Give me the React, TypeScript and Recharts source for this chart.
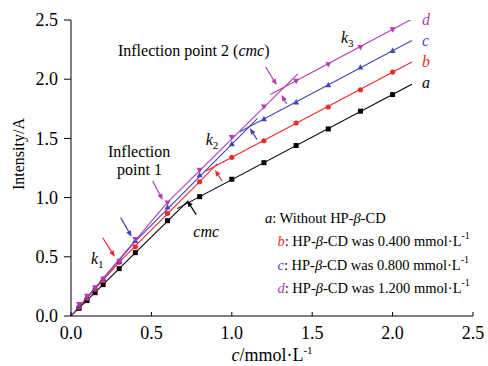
import React from 'react';
import { ComposedChart, Line, Scatter, XAxis, YAxis, ReferenceDot } from 'recharts';

// ---- data ----
const concentrations = [0.05, 0.1, 0.15, 0.2, 0.3, 0.4, 0.6, 0.8, 1.0, 1.2, 1.4, 1.6, 1.8, 2.0];
const intensityA = [0.065, 0.13, 0.197, 0.265, 0.40, 0.535, 0.805, 1.008, 1.155, 1.295, 1.44, 1.58, 1.73, 1.87];
const intensityB = [0.075, 0.15, 0.225, 0.30, 0.455, 0.585, 0.867, 1.134, 1.34, 1.48, 1.63, 1.765, 1.91, 2.06];
const intensityC = [0.085, 0.16, 0.235, 0.315, 0.46, 0.635, 0.918, 1.19, 1.453, 1.664, 1.805, 1.95, 2.10, 2.24];
const intensityD = [0.099, 0.169, 0.242, 0.312, 0.465, 0.648, 0.957, 1.233, 1.51, 1.768, 1.985, 2.125, 2.27, 2.42];

// fitted segments (c, intensity)
const fitA1: [number, number][] = [[0, 0], [0.73, 0.975]];
const fitA2: [number, number][] = [[0.66, 0.907], [2.12, 1.958]];
const fitB1: [number, number][] = [[0, 0], [0.3, 0.455], [0.91, 1.284]];
const fitB2: [number, number][] = [[0.84, 1.225], [2.12, 2.146]];
const fitC1: [number, number][] = [[0, 0], [0.4, 0.63], [1.16, 1.67]];
const fitC2: [number, number][] = [[1.05, 1.556], [2.12, 2.326]];
const fitD1: [number, number][] = [[0, 0], [0.6, 0.96], [1.41, 2.045]];
const fitD2: [number, number][] = [[1.24, 1.87], [2.13, 2.515]];

const xTicks = [0, 0.5, 1.0, 1.5, 2.0, 2.5];
const yTicks = [0, 0.5, 1.0, 1.5, 2.0, 2.5];

const COLORS = { a: '#000000', b: '#ee2a2a', c: '#4545b5', d: '#b03cb0' };
const FONT = '"Liberation Serif", "Times New Roman", serif';

const toPts = (xs: number[], ys: number[]) => xs.map((x, i) => ({ x, y: ys[i] }));
const segPts = (s: [number, number][]) => s.map(([x, y]) => ({ x, y }));

// arrows: tip in data coords, tail offset in px
const arrows = [
  { x: 0.723, y: 0.974, dx: 9, dy: 14, color: COLORS.a },
  { x: 0.896, y: 1.233, dx: 7, dy: 11, color: COLORS.b },
  { x: 1.113, y: 1.585, dx: 7, dy: 11, color: COLORS.c },
  { x: 1.279, y: 1.951, dx: -11, dy: -18, color: COLORS.d },
  { x: 1.31, y: 1.866, dx: 5, dy: 9, color: COLORS.d },
  { x: 0.57, y: 0.98, dx: -10, dy: -19, color: COLORS.d },
  { x: 0.377, y: 0.67, dx: -11, dy: -19, color: COLORS.c },
  { x: 0.272, y: 0.5, dx: -12, dy: -19, color: COLORS.b },
];

const Arrow = ({ cx, cy, dx, dy, color }: any) => {
  if (cx == null || cy == null) return null;
  const len = Math.sqrt(dx * dx + dy * dy);
  const ux = -dx / len;
  const uy = -dy / len;
  const nx = -uy;
  const ny = ux;
  const hl = 6;
  const hw = 2.6;
  const bx = cx - ux * hl;
  const by = cy - uy * hl;
  return (
    <g>
      <line x1={cx + dx} y1={cy + dy} x2={bx + ux * 1} y2={by + uy * 1} stroke={color} strokeWidth={1.2} />
      <polygon
        points={`${cx},${cy} ${bx + nx * hw},${by + ny * hw} ${bx - nx * hw},${by - ny * hw}`}
        fill={color}
      />
    </g>
  );
};

const Square = (p: any) => <rect x={p.cx - 2.5} y={p.cy - 2.5} width={5} height={5} fill={COLORS.a} />;
const Circle = (p: any) => <circle cx={p.cx} cy={p.cy} r={2.6} fill={COLORS.b} />;
const TriUp = (p: any) => (
  <polygon points={`${p.cx},${p.cy - 3.2} ${p.cx - 3},${p.cy + 2.2} ${p.cx + 3},${p.cy + 2.2}`} fill={COLORS.c} />
);
const TriDown = (p: any) => (
  <polygon points={`${p.cx},${p.cy + 3.2} ${p.cx - 3},${p.cy - 2.2} ${p.cx + 3},${p.cy - 2.2}`} fill={COLORS.d} />
);

const tStyle = { fontFamily: FONT, fontSize: 16 } as const;
const tickStyle = { fontFamily: FONT, fontSize: 18 } as const;
const legendStyle = { fontFamily: FONT, fontSize: 14.5 } as const;

const XTick = (props: any) => {
  const { x, y, payload } = props;
  return (
    <g>
      <line x1={x} x2={x} y1={y - 8} y2={y - 12} stroke="#000" strokeWidth={1} />
      <text x={x} y={y + 15} textAnchor="middle" fill="#000" style={tickStyle}>
        {Number(payload.value).toFixed(1)}
      </text>
    </g>
  );
};

const YTick = (props: any) => {
  const { x, y, payload } = props;
  return (
    <text x={x} y={y} dy="0.34em" textAnchor="end" fill="#000" style={tickStyle}>
      {Number(payload.value).toFixed(1)}
    </text>
  );
};

const Sub = ({ n }: { n: string }) => (
  <tspan dy={4} style={{ fontSize: 11, fontStyle: 'normal' }}>{n}</tspan>
);
const Sup = ({ size = 10 }: { size?: number }) => (
  <tspan dy={-7} style={{ fontSize: size }}>-1</tspan>
);
const I = ({ children, color }: any) => (
  <tspan style={{ fontStyle: 'italic' }} fill={color}>{children}</tspan>
);

type Note = { x: number; y: number; content: React.ReactNode; legend?: boolean };

const notes: Note[] = [
  { x: 0.292, y: 2.196, content: <>Inflection point 2 (<I>cmc</I>)</> },
  { x: 0.23, y: 1.343, content: <>Inflection</> },
  { x: 0.286, y: 1.19, content: <>point 1</> },
  { x: 0.124, y: 0.44, content: <><I>k</I><Sub n="1" /></> },
  { x: 0.838, y: 1.444, content: <><I>k</I><Sub n="2" /></> },
  { x: 1.679, y: 2.306, content: <><I>k</I><Sub n="3" /></> },
  { x: 0.761, y: 0.667, content: <I>cmc</I> },
  { x: 2.183, y: 2.457, content: <I color={COLORS.d}>d</I> },
  { x: 2.183, y: 2.28, content: <I color={COLORS.c}>c</I> },
  { x: 2.183, y: 2.103, content: <I color={COLORS.b}>b</I> },
  { x: 2.183, y: 1.926, content: <I color={COLORS.a}>a</I> },
  { x: 1.206, y: 0.785, legend: true, content: <><I>a</I>: Without HP-<I>β</I>-CD</> },
  { x: 1.284, y: 0.587, legend: true, content: <><I color={COLORS.b}>b</I>: HP-<I>β</I>-CD was 0.400 mmol·L<Sup /></> },
  { x: 1.284, y: 0.389, legend: true, content: <><I color={COLORS.c}>c</I>: HP-<I>β</I>-CD was 0.800 mmol·L<Sup /></> },
  { x: 1.284, y: 0.194, legend: true, content: <><I color={COLORS.d}>d</I>: HP-<I>β</I>-CD was 1.200 mmol·L<Sup /></> },
];

const fits = [
  { data: fitA1, color: COLORS.a },
  { data: fitA2, color: COLORS.a },
  { data: fitB1, color: COLORS.b },
  { data: fitB2, color: COLORS.b },
  { data: fitC1, color: COLORS.c },
  { data: fitC2, color: COLORS.c },
  { data: fitD1, color: COLORS.d },
  { data: fitD2, color: COLORS.d },
];

const XLabel = (props: any) => {
  const vb = props.viewBox || {};
  const cx = vb.x + vb.width / 2;
  return (
    <text x={cx} y={vb.y + 45} textAnchor="middle" fill="#000" style={tickStyle}>
      <I>c</I>/mmol·L<Sup size={11} />
    </text>
  );
};

export default function App() {
  return (
    <div style={{ position: 'absolute', left: 0, top: 0, width: 488, height: 366, background: '#fff' }}>
      <ComposedChart width={488} height={366} margin={{ top: 20, right: 15, bottom: 0, left: 0 }}>
        <XAxis
          type="number"
          dataKey="x"
          domain={[0, 2.5]}
          ticks={xTicks}
          allowDataOverflow
          height={50}
          tickSize={0}
          tickMargin={8}
          tick={<XTick />}
          axisLine={{ stroke: '#000', strokeWidth: 1 }}
          tickLine={false}
          label={<XLabel />}
        />
        <YAxis
          type="number"
          dataKey="y"
          domain={[0, 2.5]}
          ticks={yTicks}
          allowDataOverflow
          width={71}
          tickSize={7}
          tickMargin={6}
          tick={<YTick />}
          axisLine={{ stroke: '#000', strokeWidth: 1 }}
          tickLine={{ stroke: '#000', strokeWidth: 1 }}
        />
        {fits.map((f, i) => (
          <Line
            key={'fit' + i}
            data={segPts(f.data)}
            dataKey="y"
            type="linear"
            stroke={f.color}
            strokeWidth={1.1}
            dot={false}
            activeDot={false}
            isAnimationActive={false}
          />
        ))}
        <Scatter data={toPts(concentrations, intensityA)} dataKey="y" shape={Square} isAnimationActive={false} />
        <Scatter data={toPts(concentrations, intensityB)} dataKey="y" shape={Circle} isAnimationActive={false} />
        <Scatter data={toPts(concentrations, intensityC)} dataKey="y" shape={TriUp} isAnimationActive={false} />
        <Scatter data={toPts(concentrations, intensityD)} dataKey="y" shape={TriDown} isAnimationActive={false} />
        {arrows.map((a, i) => (
          <ReferenceDot
            key={'arr' + i}
            x={a.x}
            y={a.y}
            r={0}
            ifOverflow="visible"
            shape={(p: any) => <Arrow cx={p.cx} cy={p.cy} dx={a.dx} dy={a.dy} color={a.color} />}
          />
        ))}
        {notes.map((n, i) => (
          <ReferenceDot
            key={'note' + i}
            x={n.x}
            y={n.y}
            r={0}
            ifOverflow="visible"
            shape={(p: any) =>
              p.cx == null ? null : (
                <text x={p.cx} y={p.cy} textAnchor="start" fill="#000" style={n.legend ? legendStyle : tStyle}>
                  {n.content}
                </text>
              )
            }
          />
        ))}
      </ComposedChart>
      <svg width={40} height={366} style={{ position: 'absolute', left: 0, top: 0 }}>
        <text x={24} y={154} transform="rotate(-90 24 154)" textAnchor="middle" fill="#000" style={tStyle}>
          Intensity/A
        </text>
      </svg>
    </div>
  );
}
